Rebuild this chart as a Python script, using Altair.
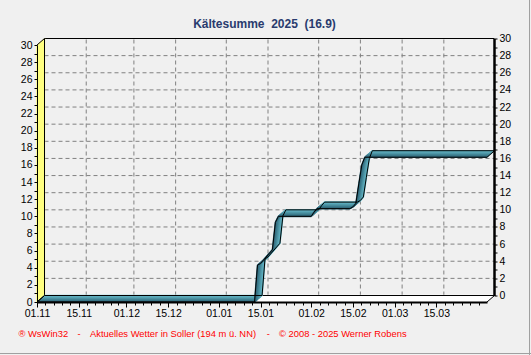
import altair as alt
import pandas as pd

# ---------------- data ----------------
dates = ["2024-11-01", "2025-01-13", "2025-01-14", "2025-01-15", "2025-01-19",
         "2025-01-20", "2025-01-21", "2025-02-01", "2025-02-02", "2025-02-03",
         "2025-02-14", "2025-02-15", "2025-02-16", "2025-02-17", "2025-02-18",
         "2025-02-19", "2025-04-01"]
values = [0.0, 0.0, 4.3, 4.5, 6.1,
          9.3, 10.0, 10.0, 10.5, 10.9,
          10.9, 11.1, 11.5, 13.8, 16.0,
          16.9, 16.9]
label_dates = ["2024-11-01", "2024-11-15", "2024-12-01", "2024-12-15", "2025-01-01",
               "2025-01-15", "2025-02-01", "2025-02-15", "2025-03-01", "2025-03-15"]
season_start = "2024-11-01"
season_end = "2025-04-01"
y_ticks = [0, 2, 4, 6, 8, 10, 12, 14, 16, 18, 20, 22, 24, 26, 28, 30]
y_max = 30
title_text = "Kältesumme\u00a0\u00a02025\u00a0\u00a0(16.9)"
footer_1 = "® WsWin32"
footer_2 = "Aktuelles Wetter in Soller (194 m ü. NN)"
footer_3 = "© 2008 - 2025 Werner Robens"

# ---------------- layout constants ----------------
W, H = 450, 257
DX, DY = 7.5, -6.5      # depth of the pseudo-3D effect
N = 12
FONT = "Liberation Sans"


def ms(s):
    return int(pd.Timestamp(s, tz="UTC").value // 10**6)


xscale = alt.Scale(type="utc", domain=[ms(season_start), ms(season_end)])
yscale = alt.Scale(domain=[0, y_max], nice=False)

# minor ticks on the time axis (~5 subdivisions per label interval)
bounds = label_dates + [season_end]
minor = []
for a, b in zip(bounds[:-1], bounds[1:]):
    ta, tb = ms(a), ms(b)
    days = (tb - ta) / 86400000
    n = max(1, round(days / 2.8))
    for i in range(1, n):
        minor.append(ta + (tb - ta) * i / n)

series = pd.DataFrame({"date": dates, "value": values})
one = pd.DataFrame({"a": [0]})
box = pd.DataFrame({"d0": [season_start], "d1": [season_end], "y0": [0], "y1": [y_max]})


def X(f="date", axis=None):
    return alt.X(f"{f}:T", scale=xscale, axis=axis)


def Y(f="value", axis=None):
    return alt.Y(f"{f}:Q", scale=yscale, axis=axis)


def mix(c0, c1, t):
    a = [int(c0[i:i + 2], 16) for i in (1, 3, 5)]
    b = [int(c1[i:i + 2], 16) for i in (1, 3, 5)]
    return "#" + "".join(f"{round(x + (y - x) * t):02x}" for x, y in zip(a, b))


layers = []

# back-wall gridlines
grid_v = pd.DataFrame({"date": label_dates[1:], "y0": 0, "y1": y_max})
layers.append(alt.Chart(grid_v).mark_rule(
    color="#808080", strokeDash=[4, 3], strokeWidth=1,
    xOffset=DX, x2Offset=DX, yOffset=DY, y2Offset=DY).encode(
    x=X(), y=Y("y0"), y2="y1:Q"))
grid_h = pd.DataFrame({"v": y_ticks[1:-1], "d0": season_start, "d1": season_end})
layers.append(alt.Chart(grid_h).mark_rule(
    color="#808080", strokeDash=[4, 3], strokeWidth=1,
    xOffset=DX, x2Offset=DX, yOffset=DY, y2Offset=DY).encode(
    x=X("d0"), x2="d1:T", y=Y("v")))
# back-wall top border
layers.append(alt.Chart(box).mark_rule(
    color="black", strokeWidth=1,
    xOffset=DX, x2Offset=DX, yOffset=DY, y2Offset=DY).encode(
    x=X("d0"), x2="d1:T", y=Y("y1")))

# floor (white) and left wall (yellow) built from stacked rules
for k in range(N + 1):
    t = k / N
    layers.append(alt.Chart(box).mark_rule(
        color="white", strokeWidth=1.4,
        xOffset=DX * t, x2Offset=DX * t, yOffset=DY * t, y2Offset=DY * t).encode(
        x=X("d0"), x2="d1:T", y=Y("y0")))
for k in range(N + 1):
    t = k / N
    layers.append(alt.Chart(box).mark_rule(
        color="#ffff80", strokeWidth=1.4,
        xOffset=DX * t, x2Offset=DX * t, yOffset=DY * t, y2Offset=DY * t).encode(
        x=X("d0"), y=Y("y0"), y2="y1:Q"))
# floor back edge and wall back edge
layers.append(alt.Chart(box).mark_rule(
    color="black", strokeWidth=1,
    xOffset=DX, x2Offset=DX, yOffset=DY, y2Offset=DY).encode(
    x=X("d0"), x2="d1:T", y=Y("y0")))
layers.append(alt.Chart(box).mark_rule(
    color="black", strokeWidth=1,
    xOffset=DX, x2Offset=DX, yOffset=DY, y2Offset=DY).encode(
    x=X("d0", axis=alt.Axis(orient="bottom", values=minor, labels=False, domain=False,
                             ticks=True, tickSize=3, tickColor="black", grid=False,
                             title=None, zindex=1)),
    y=Y("y0"), y2="y1:Q"))

# ribbon (the cumulative line extruded in depth)
c_front, c_back = "#2f6678", "#6cc5d4"
for k in range(N, -1, -1):
    t = k / N
    layers.append(alt.Chart(series).mark_line(
        color=mix(c_front, c_back, t), strokeWidth=1.6, strokeJoin="bevel",
        xOffset=DX * t, yOffset=DY * t).encode(x=X(), y=Y()))

# ribbon outlines: front edge carries left + bottom axes, back edge carries right axis
layers.append(alt.Chart(series).mark_line(color="black", strokeWidth=1).encode(
    x=X(axis=alt.Axis(orient="bottom", values=[ms(d) for d in label_dates],
                      labelExpr="utcFormat(datum.value, '%d.%m')",
                      tickSize=5, tickColor="black", domainColor="black", domainWidth=2,
                      labelColor="black", labelFont=FONT, labelFontSize=10.5,
                      labelPadding=1, labelFlush=False, labelOverlap=False,
                      grid=False, title=None, zindex=1)),
    y=Y(axis=alt.Axis(orient="left", values=list(range(0, y_max + 1)),
                      labelExpr="datum.value % 2 == 0 ? datum.label : ''",
                      tickSize=3, tickColor="black", domainColor="black", domainWidth=1,
                      labelColor="black", labelFont=FONT, labelFontSize=10.5,
                      labelPadding=2, labelOverlap=False, labelFlush=False,
                      grid=False, title=None, zindex=1))))
layers.append(alt.Chart(series).mark_line(
    color="black", strokeWidth=1, xOffset=DX, yOffset=DY).encode(
    x=X(),
    y=Y(axis=alt.Axis(orient="right", values=list(range(0, y_max + 1)),
                      labelExpr="datum.value % 2 == 0 ? datum.label : ''",
                      translate=-6, offset=13.5,
                      tickSize=3, tickColor="black", domainColor="black", domainWidth=2.5,
                      labelColor="black", labelFont=FONT, labelFontSize=10.5,
                      labelPadding=2, labelOverlap=False, labelFlush=False,
                      grid=False, title=None, zindex=1))))

# diagonal depth edges at the corners
corners = pd.DataFrame({
    "date": [season_start, season_start, season_end, dates[0], dates[-1]],
    "value": [y_max, 0, 0, values[0], values[-1]],
})
layers.append(alt.Chart(corners).mark_rule(
    color="black", strokeWidth=1, xOffset=0, x2Offset=DX, yOffset=0, y2Offset=DY).encode(
    x=X(), x2="date:T", y=Y(), y2="value:Q"))

# title and footer
layers.append(alt.Chart(one).mark_text(
    text=title_text, font=FONT, fontSize=12, fontWeight="bold", color="#293b6e",
    align="center", baseline="middle").encode(x=alt.value(227.5), y=alt.value(-21)))
foot = dict(font=FONT, fontSize=9.4, color="#ff0000", baseline="middle")
layers.append(alt.Chart(one).mark_text(text=footer_1, align="left", **foot).encode(
    x=alt.value(-18.5), y=alt.value(289)))
layers.append(alt.Chart(one).mark_text(text="-", align="center", **foot).encode(
    x=alt.value(42), y=alt.value(289)))
layers.append(alt.Chart(one).mark_text(text=footer_2, align="left", **foot).encode(
    x=alt.value(53), y=alt.value(289)))
layers.append(alt.Chart(one).mark_text(text="-", align="center", **foot).encode(
    x=alt.value(231.3), y=alt.value(289)))
layers.append(alt.Chart(one).mark_text(text=footer_3, align="left", **foot).encode(
    x=alt.value(242), y=alt.value(289)))

# window frame (right and bottom grey edges)
layers.append(alt.Chart(one).mark_rule(color="#a0a0a0", strokeWidth=1).encode(
    x=alt.value(492.5), y=alt.value(-45), y2=alt.value(310)))
layers.append(alt.Chart(one).mark_rule(color="#a0a0a0", strokeWidth=1).encode(
    x=alt.value(-37), x2=alt.value(494), y=alt.value(308.5)))

chart = alt.layer(*layers).resolve_axis(x="independent", y="independent").properties(
    width=W, height=H,
    padding={"left": 37, "top": 45, "right": 44, "bottom": 53},
    autosize=alt.AutoSizeParams(type="none"),
    background="#f0f0f0",
).configure_view(stroke=None)

chart.save("out.html", embed_options={"renderer": "svg", "actions": False})
